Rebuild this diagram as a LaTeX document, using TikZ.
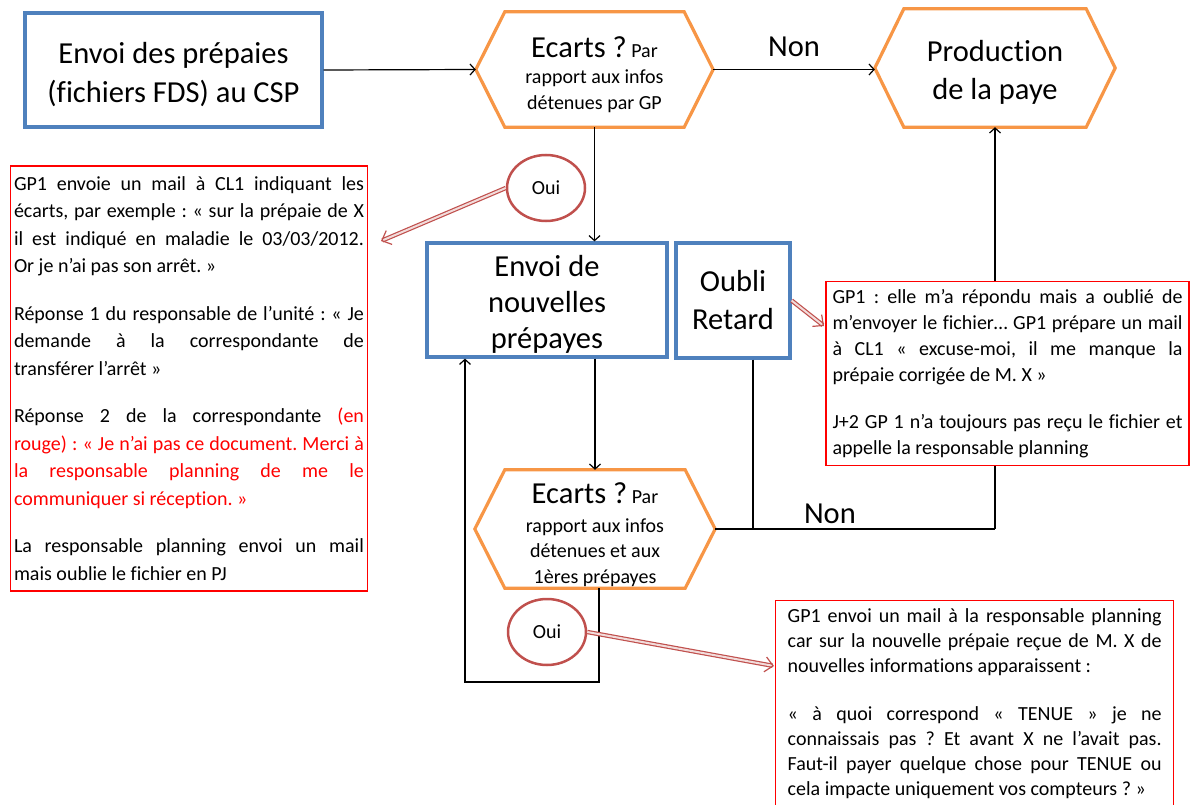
\documentclass[tikz,border=0pt]{standalone}
\usepackage{fontspec}
\setmainfont{Carlito}[Ligatures=NoCommon]
\usetikzlibrary{arrows.meta,shapes.geometric,calc}
\definecolor{BoxBlue}{RGB}{79,129,189}
\definecolor{HexOrange}{RGB}{247,150,70}
\definecolor{OuiRed}{RGB}{192,80,77}
\newcommand\bigtxt{\fontsize{30.5}{38}\selectfont}
\newcommand\hextxt{\fontsize{20}{25.5}\selectfont}
\newcommand\notetxt{\fontsize{20}{27.5}\selectfont}
\newcommand\lift[1]{\rule{0pt}{#1}}
\newcommand\hexframe[2]{\draw[hexline] (#1.west) -- ([xshift=#2]#1.north west) -- ([xshift=-#2]#1.north east) -- (#1.east) -- ([xshift=-#2]#1.south east) -- ([xshift=#2]#1.south west) -- cycle;}
\frenchspacing

\begin{document}
\begin{tikzpicture}[x=1pt,y=-1pt,
    bluebox/.style={draw=BoxBlue,line width=3.2pt,fill=white,align=center,font=\bigtxt,inner sep=0pt},
    hexbox/.style={align=center,inner sep=0pt,font=\hextxt},
    hexline/.style={draw=HexOrange,line width=3.2pt,line join=miter},
    notebox/.style={draw=red,line width=1.4pt,fill=white,align=justify,font=\notetxt,inner ysep=8pt},
    ouibubble/.style={ellipse,draw=OuiRed,line width=2.5pt,fill=white,minimum width=78pt,minimum height=66pt,font=\hextxt},
    flow/.style={line width=1.2pt,-{Straight Barb[length=5pt,width=11pt]}},
    link/.style={line width=1.2pt},
    callout/.style={draw=OuiRed,double=OuiRed!20,double distance=2pt,line width=1.2pt,-{Straight Barb[length=8pt,width=15pt]}}]
\useasboundingbox (0,0) rectangle (1192,805);

\node[bluebox,font=\fontsize{30.5}{39}\selectfont,minimum width=297pt,minimum height=114pt] (envoi) at (173.5,70) {\lift{30pt}Envoi des prépaies\\(fichiers FDS) au CSP};
\node[hexbox,minimum width=237pt,minimum height=115pt] (ecart) at (594.5,69.5) {\lift{31pt}{\bigtxt Ecarts ?} Par\\[1pt]rapport aux infos\\détenues par GP};
\hexframe{ecart}{29pt}
\node[hexbox,font=\bigtxt,minimum width=240pt,minimum height=118pt] (prod) at (995,68) {\lift{29pt}Production\\de la paye};
\hexframe{prod}{29pt}
\node[bluebox,font=\fontsize{30.5}{36}\selectfont,minimum width=240pt,minimum height=114pt] (nouv) at (547,300) {\lift{29pt}Envoi de\\nouvelles\\prépayes};
\node[bluebox,minimum width=114pt,minimum height=115pt] (oubli) at (733,300.5) {Oubli\\Retard};
\node[hexbox,minimum width=240pt,minimum height=118pt] (ecart3) at (595,529) {\lift{32pt}{\bigtxt Ecarts ?} Par\\[3pt]rapport aux infos\\détenues et aux\\1ères prépayes};
\hexframe{ecart3}{30pt}

\draw[flow] (envoi.east) -- (ecart.west);
\draw[flow] (ecart.east) -- node[above=9pt,font=\bigtxt] (non1) {Non} (ecart.east -| prod.west);
\draw[flow] (ecart.south) -- (ecart.south |- nouv.north);
\draw[flow] (ecart3.north |- nouv.south) -- (ecart3.north);
\coordinate (loopc) at (465,682);
\draw[flow] ([xshift=4pt]ecart3.south) |- (loopc) -- (loopc |- nouv.south);
\draw[link] (ecart3.east) -- node[pos=0.41,above=1pt,font=\bigtxt] (non2) {Non} (ecart3.east -| prod.south);
\draw[flow] (ecart3.east -| prod.south) -- (prod.south);
\coordinate (oubliout) at ([xshift=20pt]oubli.south);
\draw[link] (oubliout) -- (oubliout |- ecart3.east);

\node[notebox,text width=350pt,minimum height=425pt] (note1) at (189,378.5) {GP1 envoie un mail à CL1 indiquant les \linebreak écarts, par exemple : «~sur la prépaie de X \linebreak il est indiqué en maladie le 03/03/2012. \linebreak Or je n’ai pas son arrêt.~»\par\vspace{20pt}
Réponse 1 du responsable de l’unité : «~Je \linebreak demande à la correspondante de \linebreak transférer l’arrêt~»\par\vspace{20pt}
Réponse 2 de la correspondante \textcolor{red}{(en \linebreak rouge) : «~Je n’ai pas ce document. Merci à \linebreak la responsable planning de me le \linebreak communiquer si réception.~»}\par\vspace{20pt}
La responsable planning envoi un mail \linebreak mais oublie le fichier en PJ};
\node[notebox,text width=350pt,minimum width=363pt,minimum height=183pt,font=\fontsize{20}{26}\selectfont] (note2) at (1007.5,373.5) {GP1 : elle m’a répondu mais a oublié de \linebreak m’envoyer le fichier… GP1 prépare un mail \linebreak à CL1 «~excuse-moi, il me manque la \linebreak prépaie corrigée de M. X~»\par\vspace{21pt}
J+2 GP 1 n’a toujours pas reçu le fichier et \linebreak appelle la responsable planning};
\node[notebox,text width=374pt,inner xsep=12pt,anchor=north west,font=\fontsize{20}{25}\selectfont] (note3) at (775,600) {GP1 envoi un mail à la responsable planning \linebreak car sur la nouvelle prépaie reçue de M. X de \linebreak nouvelles informations apparaissent :\par\vspace{23pt}
«~à quoi correspond «~TENUE~» je ne \linebreak connaissais pas ? Et avant X ne l’avait pas. \linebreak Faut-il payer quelque chose pour TENUE ou \linebreak cela impacte uniquement vos compteurs ?~»};

\node[ouibubble] (oui1) at (546,188) {Oui};
\node[ouibubble] (oui2) at (547,632) {Oui};
\coordinate (tip1) at (381,241);
\coordinate (tip2) at (824,326);
\coordinate (tip3) at (774,666);
\draw[callout] (oui1.west) -- (tip1);
\draw[callout] (oubli.east) -- (tip2);
\draw[callout] (oui2.east) -- (tip3);
\end{tikzpicture}
\end{document}
